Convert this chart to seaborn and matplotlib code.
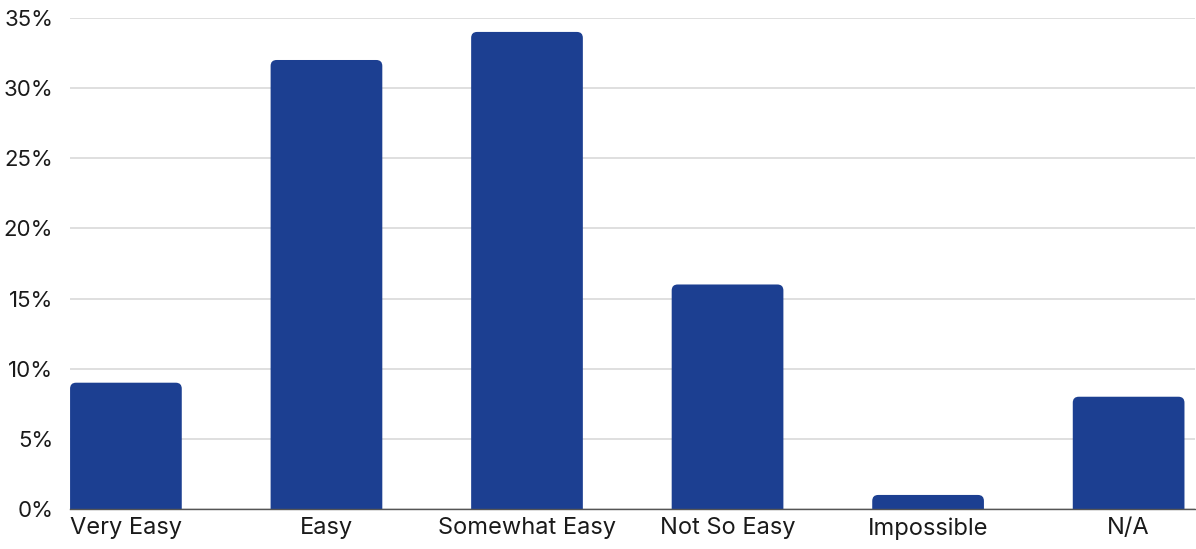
import matplotlib
matplotlib.use("Agg")
import matplotlib.pyplot as plt
from matplotlib.patches import FancyBboxPatch
from matplotlib.ticker import FuncFormatter
import seaborn as sns
import pandas as pd

categories = ["Very Easy", "Easy", "Somewhat Easy", "Not So Easy", "Impossible", "N/A"]
values = [9, 32, 34, 16, 1, 8]
yticks = [0, 5, 10, 15, 20, 25, 30, 35]

sns.set_theme(style="white")
plt.rcParams["font.family"] = ["Inter", "DejaVu Sans"]

df = pd.DataFrame({"cat": categories, "val": values})
bar_color = "#1c3f91"

fig = plt.figure(figsize=(11.96, 5.49), dpi=100)
ax = fig.add_axes([0.0585, 0.0729, 0.9405, 0.8945])

sns.barplot(data=df, x="cat", y="val", color=bar_color, width=0.557,
            saturation=1, ax=ax, zorder=3)

ax.set_xlim(-0.279, 5.33)
ax.set_ylim(0, 35)
ax.set_yticks(yticks)
ax.yaxis.set_major_formatter(FuncFormatter(lambda v, p: f"{int(v)}%"))
ax.grid(axis="y", color="#d9d9d9", linewidth=1.2, zorder=0)
ax.set_axisbelow(True)
for s in ["top", "right", "left"]:
    ax.spines[s].set_visible(False)
ax.spines["bottom"].set_color("#555555")
ax.spines["bottom"].set_linewidth(1.0)
ax.spines["bottom"].set_zorder(5)
ax.tick_params(axis="y", length=0, pad=12, labelsize=16, labelcolor="#1a1a1a")
ax.tick_params(axis="x", length=0, pad=6, labelsize=17, labelcolor="#1a1a1a")
ax.set_xlabel("")
ax.set_ylabel("")

# replace bars with rounded-top versions
fig.canvas.draw()
bbox = ax.get_window_extent()
xpx = bbox.width / (ax.get_xlim()[1] - ax.get_xlim()[0])
ypx = bbox.height / (ax.get_ylim()[1] - ax.get_ylim()[0])
aspect = xpx / ypx
r = 6 / xpx
for p in list(ax.patches):
    x0, w, h = p.get_x(), p.get_width(), p.get_height()
    fc = p.get_facecolor()
    p.remove()
    fb = FancyBboxPatch((x0, -1), w, h + 1,
                        boxstyle=f"round,pad=0,rounding_size={r}",
                        mutation_aspect=aspect, facecolor=fc,
                        edgecolor="none", zorder=3, clip_on=True)
    ax.add_patch(fb)

fig.savefig("out.png", dpi=100)
